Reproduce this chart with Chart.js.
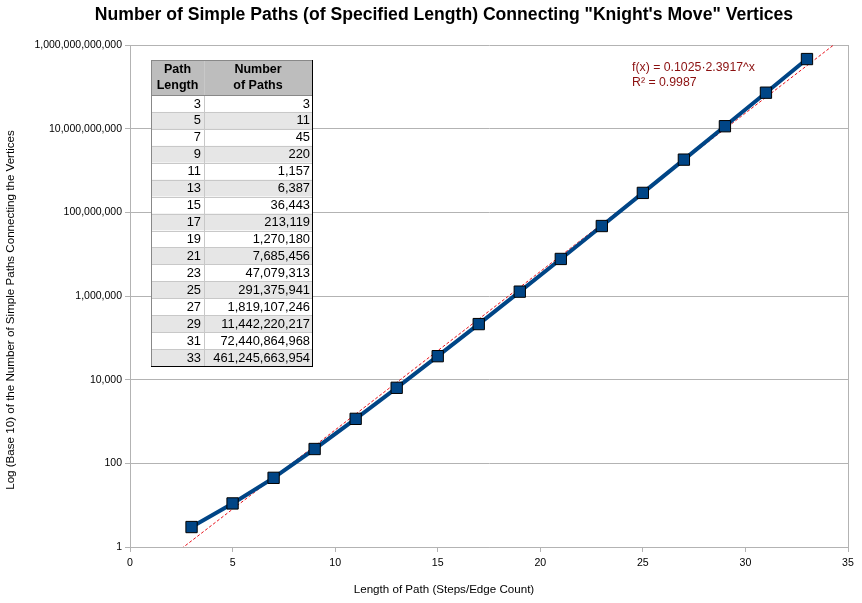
<!DOCTYPE html>
<html>
<head>
<meta charset="utf-8">
<script src="https://cdn.jsdelivr.net/npm/chart.js@4/dist/chart.umd.min.js"></script>
<style>
  html, body { margin: 0; padding: 0; background: #fff; }
  #wrap { width: 862px; height: 603px; }
</style>
</head>
<body>
<div id="wrap"><canvas id="chart"></canvas></div>
<script>
const PATH_LENGTHS = [3, 5, 7, 9, 11, 13, 15, 17, 19, 21, 23, 25, 27, 29, 31, 33];
const PATH_COUNTS = [
  3, 11, 45, 220, 1157, 6387, 36443, 213119, 1270180, 7685456,
  47079313, 291375941, 1819107246, 11442220217, 72440864968, 461245663954,
];
const Y_TICKS = [1, 1e2, 1e4, 1e6, 1e8, 1e10, 1e12];

// trend line as reported on the chart: f(x) = a * b^x
const TREND_A = 0.1025;
const TREND_B = 2.3917;
const TREND_X = [0, 35];

const FONT = 'Liberation Sans, Arial, sans-serif';
const GRID = '#b3b3b3';
const BLUE = '#004586';

const fmt = (n) => n.toLocaleString('en-US');

// title, axis titles, trend equation and the value table
const overlayPlugin = {
  id: 'overlay',
  afterDraw(chart) {
    const ctx = chart.ctx;
    ctx.save();
    ctx.fillStyle = '#000';
    ctx.font = 'bold 17.6px ' + FONT;
    ctx.textAlign = 'center';
    ctx.textBaseline = 'middle';
    ctx.fillText('Number of Simple Paths (of Specified Length) Connecting "Knight\'s Move" Vertices', 444, 15);

    ctx.font = '11.6px ' + FONT;
    ctx.fillText('Length of Path (Steps/Edge Count)', 444, 590);
    ctx.save();
    ctx.translate(11, 310);
    ctx.rotate(-Math.PI / 2);
    ctx.fillText('Log (Base 10) of the Number of Simple Paths Connecting the Vertices', 0, 0);
    ctx.restore();

    // equation of the trend line
    ctx.fillStyle = '#8b1010';
    ctx.font = '12.3px ' + FONT;
    ctx.textAlign = 'left';
    ctx.fillText('f(x) = ' + TREND_A + '\u00b7' + TREND_B + '^x', 632, 68);
    ctx.fillText('R\u00b2 = 0.9987', 632, 83);

    // table
    const left = 151, mid = 204, right = 312, top = 60, headBottom = 95;
    const rowH = 16.94;
    const bottom = headBottom + rowH * PATH_LENGTHS.length;
    ctx.fillStyle = '#bdbdbd';
    ctx.fillRect(left, top, right - left, headBottom - top);
    PATH_LENGTHS.forEach((len, i) => {
      const y0 = headBottom + i * rowH;
      ctx.fillStyle = i % 2 ? '#e6e6e6' : '#ffffff';
      ctx.fillRect(left, y0, right - left, rowH);
    });
    ctx.strokeStyle = '#c8c8c8';
    ctx.lineWidth = 1;
    ctx.beginPath();
    for (let i = 1; i < PATH_LENGTHS.length; i++) {
      const y = Math.round(headBottom + i * rowH) + 0.5;
      ctx.moveTo(left, y);
      ctx.lineTo(right, y);
    }
    ctx.moveTo(mid + 0.5, top);
    ctx.lineTo(mid + 0.5, bottom);
    ctx.stroke();
    ctx.strokeStyle = '#888';
    ctx.beginPath();
    ctx.moveTo(left, headBottom + 0.5);
    ctx.lineTo(right, headBottom + 0.5);
    ctx.moveTo(left + 0.5, top);
    ctx.lineTo(left + 0.5, bottom);
    ctx.moveTo(left, top + 0.5);
    ctx.lineTo(right, top + 0.5);
    ctx.stroke();
    ctx.strokeStyle = '#000';
    ctx.beginPath();
    ctx.moveTo(right + 0.5, top);
    ctx.lineTo(right + 0.5, bottom + 1);
    ctx.moveTo(left, Math.round(bottom) + 0.5);
    ctx.lineTo(right + 1, Math.round(bottom) + 0.5);
    ctx.stroke();

    ctx.fillStyle = '#000';
    ctx.font = 'bold 12.5px ' + FONT;
    ctx.textAlign = 'center';
    ctx.fillText('Path', (left + mid) / 2, 70);
    ctx.fillText('Length', (left + mid) / 2, 86);
    ctx.fillText('Number', (mid + right) / 2, 70);
    ctx.fillText('of Paths', (mid + right) / 2, 86);
    ctx.font = '12.9px ' + FONT;
    ctx.textAlign = 'right';
    PATH_LENGTHS.forEach((len, i) => {
      const yc = headBottom + (i + 0.5) * rowH + 0.5;
      ctx.fillText(String(len), mid - 3, yc);
      ctx.fillText(fmt(PATH_COUNTS[i]), right - 2, yc);
    });
    ctx.restore();
  },
};

const ctx = document.getElementById('chart').getContext('2d');
new Chart(ctx, {
  type: 'line',
  data: {
    datasets: [
      {
        label: 'Number of Paths',
        data: PATH_LENGTHS.map((x, i) => ({ x, y: PATH_COUNTS[i] })),
        borderColor: BLUE,
        borderWidth: 4,
        backgroundColor: BLUE,
        pointStyle: 'rect',
        pointRadius: 8,
        pointBorderColor: '#000',
        pointBorderWidth: 1,
        pointBackgroundColor: BLUE,
        tension: 0,
      },
      {
        label: 'Trend',
        data: TREND_X.map((x) => ({ x, y: TREND_A * Math.pow(TREND_B, x) })),
        borderColor: '#e8101a',
        borderWidth: 1,
        borderDash: [3, 2],
        pointRadius: 0,
        tension: 0,
      },
    ],
  },
  options: {
    responsive: true,
    maintainAspectRatio: false,
    animation: false,
    layout: { padding: { top: 45, right: 14, left: 0, bottom: 0 } },
    plugins: {
      legend: { display: false },
      title: { display: false },
      tooltip: { enabled: false },
    },
    scales: {
      x: {
        type: 'linear',
        min: 0,
        max: 35,
        afterFit: (scale) => { scale.height = 56; },
        ticks: { stepSize: 5, color: '#000', font: { family: FONT, size: 10.6 }, padding: 5 },
        grid: {
          drawOnChartArea: true,
          color: (c) => (c.tick && c.tick.value === 35 ? GRID : 'rgba(0,0,0,0)'),
          tickColor: GRID,
          tickLength: 5,
        },
        border: { color: GRID },
      },
      y: {
        type: 'logarithmic',
        min: 1,
        max: 1e12,
        afterFit: (scale) => { scale.width = 130; },
        afterBuildTicks: (scale) => { scale.ticks = Y_TICKS.map((v) => ({ value: v })); },
        ticks: {
          color: '#000',
          font: { family: FONT, size: 10.5 },
          padding: 3,
          callback: (v) => fmt(v),
        },
        grid: { color: GRID, tickColor: GRID, tickLength: 5 },
        border: { color: GRID },
      },
    },
  },
  plugins: [overlayPlugin],
});
</script>
</body>
</html>
